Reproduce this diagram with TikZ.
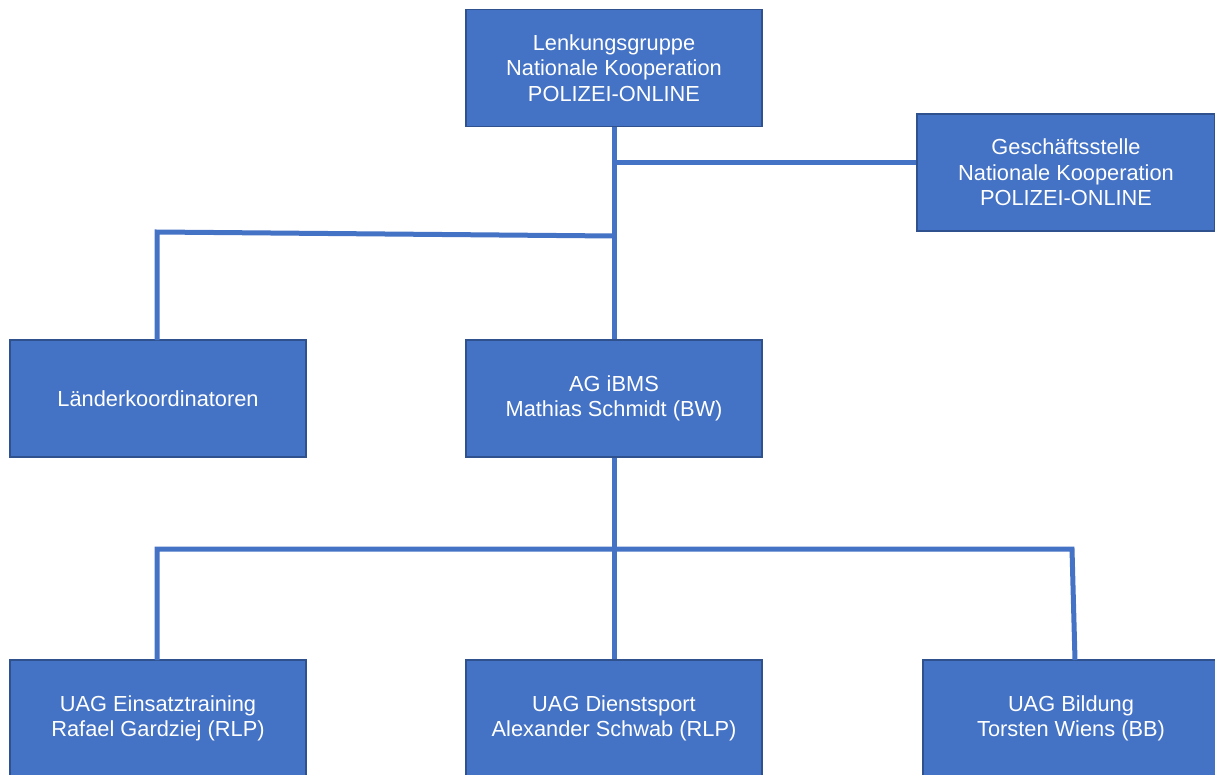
\documentclass[tikz,border=0pt]{standalone}
\usepackage{fontspec}
\setmainfont{Liberation Sans}
\definecolor{boxblue}{HTML}{4472C4}
\definecolor{boxedge}{HTML}{2F528F}
\begin{document}
\begin{tikzpicture}[x=1pt,y=-1pt,
  orgbox/.style={draw=boxedge,line width=1.2pt,fill=boxblue,text=white,
    minimum width=296pt,minimum height=117pt,inner sep=0pt,align=center,
    font=\fontsize{21.8}{25.6}\selectfont},
  link/.style={draw=boxblue,line width=5pt}]
\useasboundingbox (0,0) rectangle (1215,774);
\node[orgbox] (top) at (614,68) {Lenkungsgruppe\\Nationale Kooperation\\POLIZEI-ONLINE};
\node[orgbox,minimum width=298pt] (gs) at (1066,172.5) {Geschäftsstelle\\Nationale Kooperation\\POLIZEI-ONLINE};
\node[orgbox] (lk) at (158,398.5) {Länderkoordinatoren};
\node[orgbox] (ag) at (614,398.5) {AG iBMS\\Mathias Schmidt (BW)};
\node[orgbox] (u1) at (158,718.5) {UAG Einsatztraining\\Rafael Gardziej (RLP)};
\node[orgbox] (u2) at (614,718.5) {UAG Dienstsport\\Alexander Schwab (RLP)};
\node[orgbox] (u3) at (1071,718.5) {UAG Bildung\\Torsten Wiens (BB)};
\coordinate (jg) at (614,162);
\coordinate (jl) at (614,236);
\coordinate (cl) at (157,232);
\coordinate (jb) at (614,549);
\coordinate (bl) at (157,549);
\coordinate (br) at (1072,549);
\coordinate (u3top) at (1075,660);
\coordinate (u1top) at (157,660);
\coordinate (lktop) at (157,340);
\draw[link] (top.south) -- (ag.north);
\draw[link] (jg) -- (gs.west |- jg);
\draw[link] (jl) -- (cl) -- (lktop);
\draw[link] (ag.south) -- (jb);
\draw[link] (u1top) -- (bl) -- (br) -- (u3top);
\draw[link] (jb) -- (u2.north);
\end{tikzpicture}
\end{document}
